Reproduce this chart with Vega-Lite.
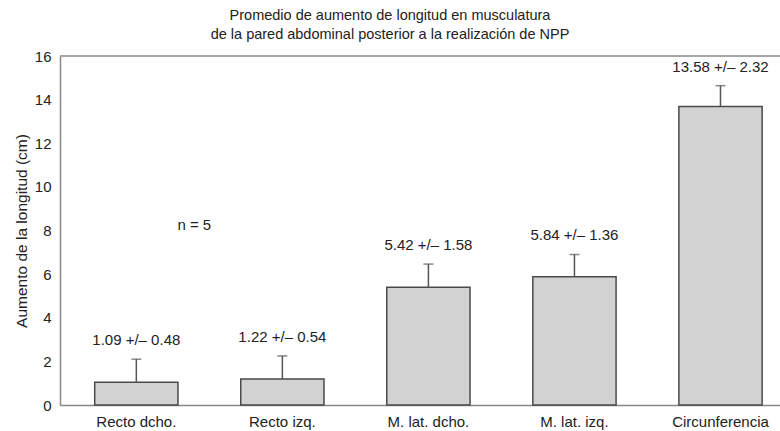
{
  "$schema": "https://vega.github.io/schema/vega-lite/v6.json",
  "width": 720,
  "height": 349,
  "autosize": {"type": "none"},
  "padding": {"left": 60, "top": 56, "right": 0, "bottom": 26},
  "background": "white",
  "title": {
    "text": ["Promedio de aumento de longitud en musculatura", "de la pared abdominal posterior a la realización de NPP"],
    "font": "Liberation Sans",
    "fontSize": 14.5,
    "fontWeight": "normal",
    "color": "#222222",
    "anchor": "middle",
    "dx": -30,
    "offset": 7,
    "lineHeight": 19
  },
  "config": {
    "view": {"stroke": null},
    "font": "Liberation Sans",
    "axis": {"labelFont": "Liberation Sans", "titleFont": "Liberation Sans", "labelColor": "#222222", "titleColor": "#222222"}
  },
  "data": {
    "values": [
      {"group": "Recto dcho.", "mean": 1.04, "errTop": 2.10, "label": "1.09 +/– 0.48"},
      {"group": "Recto izq.", "mean": 1.19, "errTop": 2.25, "label": "1.22 +/– 0.54"},
      {"group": "M. lat. dcho.", "mean": 5.40, "errTop": 6.46, "label": "5.42 +/– 1.58"},
      {"group": "M. lat. izq.", "mean": 5.88, "errTop": 6.90, "label": "5.84 +/– 1.36"},
      {"group": "Circunferencia", "mean": 13.68, "errTop": 14.64, "label": "13.58 +/– 2.32"}
    ]
  },
  "layer": [
    {
      "mark": {"type": "bar", "fill": "#d2d2d2", "stroke": "#4a4a4a", "strokeWidth": 1.5},
      "encoding": {
        "x": {
          "field": "group", "type": "nominal", "sort": null,
          "scale": {"paddingInner": 0.43, "paddingOuter": 0.18, "align": 0.66},
          "axis": {"title": null, "labelAngle": 0, "ticks": false, "labelFontSize": 15, "labelPadding": 9, "domainColor": "#888888", "domainWidth": 1.5}
        },
        "y": {
          "field": "mean", "type": "quantitative",
          "scale": {"domain": [0, 16], "nice": false},
          "axis": {"title": "Aumento de la longitud (cm)", "titleFontSize": 15.5, "titleFontWeight": "normal", "titlePadding": 5, "values": [0, 2, 4, 6, 8, 10, 12, 14, 16], "labelFontSize": 15, "ticks": false, "grid": false, "labelPadding": 9, "domainColor": "#888888", "domainWidth": 1.5}
        }
      }
    },
    {
      "mark": {"type": "rule", "color": "#555555", "strokeWidth": 1.5},
      "encoding": {
        "x": {"field": "group", "type": "nominal", "sort": null},
        "y": {"field": "mean", "type": "quantitative"},
        "y2": {"field": "errTop"}
      }
    },
    {
      "mark": {"type": "tick", "color": "#555555", "size": 10, "thickness": 1.5},
      "encoding": {
        "x": {"field": "group", "type": "nominal", "sort": null},
        "y": {"field": "errTop", "type": "quantitative"}
      }
    },
    {
      "mark": {"type": "text", "fontSize": 15, "color": "#222222", "dy": -19, "baseline": "middle"},
      "encoding": {
        "x": {"field": "group", "type": "nominal", "sort": null},
        "y": {"field": "errTop", "type": "quantitative"},
        "text": {"field": "label"}
      }
    },
    {
      "data": {"values": [{"note": "n = 5"}]},
      "mark": {"type": "text", "fontSize": 15, "color": "#222222", "dx": 58, "baseline": "middle"},
      "encoding": {
        "x": {"datum": "Recto dcho.", "type": "nominal"},
        "y": {"datum": 8.25, "type": "quantitative"},
        "text": {"field": "note"}
      }
    },
    {
      "data": {"values": [{"top": 16}]},
      "mark": {"type": "rule", "color": "#888888", "strokeWidth": 1.5},
      "encoding": {
        "y": {"field": "top", "type": "quantitative"}
      }
    }
  ]
}
